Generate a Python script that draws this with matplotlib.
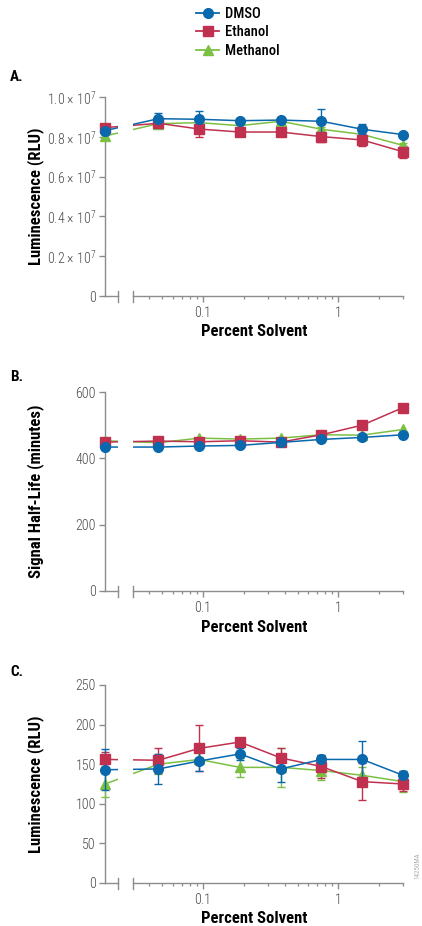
import matplotlib
matplotlib.use("Agg")
import matplotlib.pyplot as plt
from matplotlib.ticker import FixedLocator, FuncFormatter, NullFormatter
from matplotlib.patches import Rectangle
import matplotlib.transforms as mtransforms
from matplotlib.lines import Line2D

FONT = ['Roboto Condensed', 'DejaVu Sans']
plt.rcParams['font.family'] = FONT
plt.rcParams['mathtext.fontset'] = 'custom'
plt.rcParams['mathtext.rm'] = 'Roboto Condensed:light'
plt.rcParams['mathtext.it'] = 'Roboto Condensed:light'

# ---------------- data ----------------
series_names = ["DMSO", "Ethanol", "Methanol"]
series_colors = ["#0a68ad", "#c0314f", "#7cc043"]
series_markers = ["o", "s", "^"]

# percent solvent (0 % is drawn at the left end of the broken axis)
conc = [0.0, 0.046875, 0.09375, 0.1875, 0.375, 0.75, 1.5, 3.0]

# Panel A: luminescence (x 10^7 RLU)
a_dmso = [0.831, 0.891, 0.888, 0.881, 0.884, 0.878, 0.838, 0.811]
a_dmso_err = [0.02, 0.03, 0.04, 0.01, 0.01, 0.06, 0.025, 0.01]
a_eth = [0.846, 0.868, 0.839, 0.824, 0.824, 0.801, 0.784, 0.725]
a_eth_err = [0.015, 0.01, 0.04, 0.01, 0.01, 0.025, 0.03, 0.03]
a_meth = [0.804, 0.866, 0.871, 0.856, 0.878, 0.838, 0.812, 0.757]
a_meth_err = [0.01, 0.01, 0.01, 0.01, 0.01, 0.01, 0.01, 0.01]

# Panel B: signal half-life (minutes)
b_dmso = [434, 434, 437, 439, 448, 457, 463, 471]
b_eth = [449, 452, 450, 453, 449, 471, 500, 553]
b_meth = [453, 447, 461, 458, 461, 471, 470, 487]

# Panel C: luminescence (RLU)
c_dmso = [143, 144, 154, 163, 144, 156, 156, 136]
c_dmso_err = [26, 19, 12, 8, 16, 6, 23, 6]
c_eth = [156, 155, 170, 178, 158, 147, 128, 125]
c_eth_err = [10, 16, 29, 3, 13, 15, 23, 9]
c_meth = [125, 150, 156, 146, 146, 142, 136, 128]
c_meth_err = [16, 13, 3, 12, 25, 12, 11, 13]

x_major = [0.1, 1]
x_major_labels = ["0.1", "1"]
x_minor = [0.04, 0.05, 0.06, 0.07, 0.08, 0.09,
           0.2, 0.3, 0.4, 0.5, 0.6, 0.7, 0.8, 0.9, 2, 3]

a_yticks = [0, 0.2, 0.4, 0.6, 0.8, 1.0]
b_yticks = [0, 200, 400, 600]
c_yticks = [0, 50, 100, 150, 200, 250]

# ---------------- layout ----------------
ZERO_POS = 0.0189       # where 0 % sits on the log axis
BREAK_L, BREAK_R = 0.0236, 0.0303
XMAX = 3.0
W, H = 422, 926

fig = plt.figure(figsize=(W / 100, H / 100), dpi=100)

TICK_C = "#8c8c8c"
LABEL_C = "#4a4a4a"


def make_axes(bottom_px, top_px):
    left, right = 105, 403
    return fig.add_axes([left / W, (H - bottom_px) / H,
                         (right - left) / W, (bottom_px - top_px) / H])


def xfmt(v, p):
    i = min(range(len(x_major)), key=lambda k: abs(x_major[k] - v))
    return x_major_labels[i]


def style_axes(ax, yticks, ylim, yfmt, ylabel, xlabel_text):
    ax.set_xscale("log")
    ax.set_xlim(ZERO_POS, XMAX)
    ax.set_ylim(*ylim)
    for s in ["top", "right", "bottom"]:
        ax.spines[s].set_visible(False)
    ax.spines["left"].set_color(TICK_C)
    ax.spines["left"].set_linewidth(1.0)
    ax.spines["left"].set_bounds(ylim[0], ylim[1])
    ax.yaxis.set_major_locator(FixedLocator(yticks))
    ax.yaxis.set_major_formatter(FuncFormatter(yfmt))
    ax.yaxis.set_minor_locator(FixedLocator([]))
    ax.xaxis.set_major_locator(FixedLocator(x_major))
    ax.xaxis.set_major_formatter(FuncFormatter(xfmt))
    ax.xaxis.set_minor_locator(FixedLocator(x_minor))
    ax.xaxis.set_minor_formatter(NullFormatter())
    ax.tick_params(axis="both", which="major", direction="out", length=4.5,
                   width=1.0, color=TICK_C, labelcolor=LABEL_C, labelsize=10, pad=2)
    ax.tick_params(axis="x", which="minor", direction="out", length=2.5,
                   width=0.9, color=TICK_C)
    ax.tick_params(axis="x", which="major", pad=3)
    for lab in ax.get_xticklabels() + ax.get_yticklabels():
        lab.set_fontweight("light")

    trans = mtransforms.blended_transform_factory(ax.transData, ax.transAxes)
    # white gap cutting the lines at the axis break
    ax.add_patch(Rectangle((BREAK_L, 0.0), BREAK_R - BREAK_L, 1.0, transform=trans,
                           facecolor="white", edgecolor="none", zorder=5, clip_on=False))
    # broken bottom axis
    ax.add_line(Line2D([ZERO_POS, BREAK_L], [0, 0], transform=trans, color=TICK_C,
                       lw=1.0, clip_on=False, zorder=6))
    ax.add_line(Line2D([BREAK_R, XMAX], [0, 0], transform=trans, color=TICK_C,
                       lw=1.0, clip_on=False, zorder=6))
    hh = 5.5 / (ax.get_position().height * H)
    for bx in (BREAK_L, BREAK_R):
        ax.add_line(Line2D([bx, bx], [-hh, hh], transform=trans, color=TICK_C,
                           lw=1.0, clip_on=False, zorder=6))

    ax.text(-69 / 298, 0.5, ylabel, transform=ax.transAxes, rotation=90,
            ha="center", va="center", fontsize=12, fontweight="bold", color="black")
    ax.text(0.5, -36 / 199, xlabel_text, transform=ax.transAxes,
            ha="center", va="center", fontsize=12, fontweight="bold", color="black")


def plot_series(ax, ys_list, errs_list, scale=1.0):
    xs = [ZERO_POS] + conc[1:]
    for i, (ys, name) in enumerate(zip(ys_list, series_names)):
        yv = [v * scale for v in ys]
        kw = dict(color=series_colors[i], marker=series_markers[i],
                  ms=7 if i != 1 else 6.5, mec=series_colors[i], lw=1.1,
                  label=name, clip_on=False, zorder=3 + 0.1 * (2 - i))
        if errs_list is not None:
            ev = [e * scale for e in errs_list[i]]
            h = ax.errorbar(xs, yv, yerr=ev, capsize=3, elinewidth=1.0,
                            capthick=1.0, **kw)
            for c in list(h.lines[1]) + list(h.lines[2]):
                c.set_clip_on(False)
        else:
            ax.plot(xs, yv, **kw)


# Panel A
axA = make_axes(296, 97)
style_axes(axA, [t * 1e7 for t in a_yticks], (0, 1e7),
           lambda v, p: "0" if v == 0 else "%.1f \u00d7 10$^{7}$" % (v / 1e7),
           "Luminescence (RLU)", "Percent Solvent")
plot_series(axA, [a_dmso, a_eth, a_meth], [a_dmso_err, a_eth_err, a_meth_err], scale=1e7)

# Panel B
axB = make_axes(591, 392)
style_axes(axB, b_yticks, (0, 600), lambda v, p: "%d" % v,
           "Signal Half-Life (minutes)", "Percent Solvent")
plot_series(axB, [b_dmso, b_eth, b_meth], None)

# Panel C
axC = make_axes(883, 685)
style_axes(axC, c_yticks, (0, 250), lambda v, p: "%d" % v,
           "Luminescence (RLU)", "Percent Solvent")
plot_series(axC, [c_dmso, c_eth, c_meth], [c_dmso_err, c_eth_err, c_meth_err])

# legend
leg_handles = [Line2D([], [], color=series_colors[i], marker=series_markers[i],
                      ms=7, lw=1.3) for i in range(3)]
fig.legend(leg_handles, series_names, loc="upper left",
           bbox_to_anchor=(196 / W, 1 - 7 / H), frameon=False,
           prop={"family": FONT, "size": 10.5, "weight": "medium"},
           handlelength=1.6, handletextpad=0.4, borderpad=0, labelspacing=0.3,
           borderaxespad=0)

# panel letters
for lab, ypx in (("A.", 77), ("B.", 377), ("C.", 672)):
    fig.text(10 / W, 1 - ypx / H, lab, fontsize=11, fontweight="bold",
             ha="left", va="center")

fig.text(418 / W, 1 - 866 / H, "14250MA", rotation=90, fontsize=5,
         color="#b0b0b0", ha="center", va="center")

fig.savefig("out.png", dpi=100)
